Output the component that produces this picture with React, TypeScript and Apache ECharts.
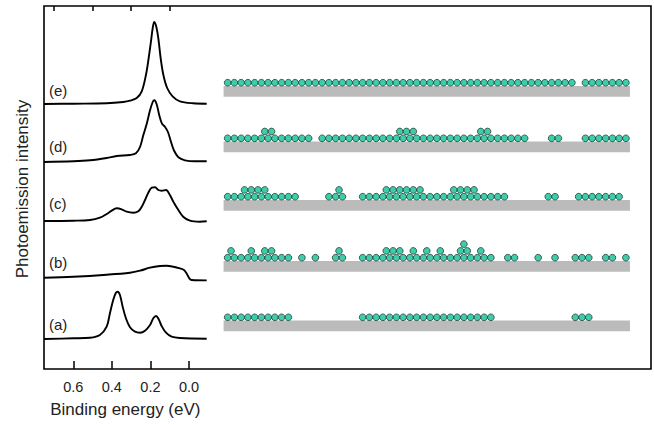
import React, { useEffect, useRef } from "react";
import * as echarts from "echarts";

// ---------- Spectra (binding energy in eV, intensity in arbitrary units above each baseline) ----------
const ENERGY_A = [0.752, 0.6, 0.513, 0.462, 0.427, 0.41, 0.393, 0.379, 0.37, 0.358, 0.344, 0.327, 0.306, 0.28, 0.254, 0.228, 0.202, 0.185, 0.171, 0.157, 0.142, 0.119, 0.09, 0.047, -0.092];
const INTENSITY_A = [0, 0.7, 1.3, 4, 12.3, 25.7, 39, 46.3, 47.3, 44, 32.3, 20.7, 11.7, 7.3, 6.3, 8.3, 14, 20.7, 23, 19.7, 13, 6.3, 2.3, 1, 0.3];

const ENERGY_B = [0.752, 0.6, 0.427, 0.306, 0.254, 0.202, 0.15, 0.116, 0.081, 0.047, 0.026, 0.012, -0.002, -0.014, -0.092];
const INTENSITY_B = [0, 1, 3, 5, 7, 10, 11.7, 12, 11, 9.3, 7.7, 4.3, -0.7, -2.3, -2.7];

const ENERGY_C = [0.752, 0.6, 0.513, 0.462, 0.427, 0.401, 0.375, 0.349, 0.323, 0.289, 0.263, 0.245, 0.228, 0.211, 0.193, 0.176, 0.159, 0.142, 0.119, 0.099, 0.081, 0.055, 0.03, -0.005, -0.057, -0.092];
const INTENSITY_C = [0, 0.3, 1, 3.3, 7, 10.3, 12.7, 11.7, 9.3, 8.3, 9.7, 14.3, 21, 28.3, 33.3, 33.7, 31, 30.3, 31, 26, 19.3, 11, 4.3, 0.3, -0.7, -0.3];

const ENERGY_D = [0.752, 0.6, 0.513, 0.427, 0.375, 0.306, 0.275, 0.254, 0.237, 0.219, 0.202, 0.188, 0.18, 0.168, 0.154, 0.14, 0.124, 0.109, 0.093, 0.078, 0.055, 0.021, -0.031, -0.092];
const INTENSITY_D = [0, 0.7, 1.7, 4, 6, 7, 8.7, 15, 26.7, 38.3, 51.7, 60, 61.7, 58, 46.7, 38.3, 35, 30, 20, 11.7, 4.7, 1.7, 0.7, 0.7];

const ENERGY_E = [0.752, 0.6, 0.427, 0.341, 0.306, 0.271, 0.245, 0.223, 0.209, 0.197, 0.188, 0.18, 0.168, 0.157, 0.147, 0.133, 0.113, 0.085, 0.047, -0.022, -0.092];
const INTENSITY_E = [0, 0.3, 0.7, 2, 3.3, 6, 12.7, 29.3, 46, 62.7, 76, 82, 76, 62.7, 46, 29.3, 16, 7.7, 2.7, 0.7, 0.3];

const SPECTRUM_LABELS = ["(a)", "(b)", "(c)", "(d)", "(e)"];
const SPECTRUM_BASELINES = [30, 91.3, 148, 207, 265];

const MAJOR_TICKS = [0, 0.2, 0.4, 0.6];
const MINOR_TICKS = [0.1, 0.3, 0.5, 0.7];

// ---------- Atom rows (lattice site index; upper layers at half sites) ----------
const ROW_A_BASE = [0, 1, 2, 3, 4, 5, 6, 7, 8, 9, 20, 21, 22, 23, 24, 25, 26, 27, 28, 29, 30, 31, 32, 33, 34, 35, 36, 37, 38, 39, 51.5, 52.5, 53.5];
const ROW_A_UP: number[] = [];
const ROW_A_TOP: number[] = [];

const ROW_B_BASE = [0, 1, 2, 3, 4, 5, 6, 7, 8, 9, 11, 13, 16, 17, 20, 21, 22, 23, 24, 25, 26, 27, 28, 29, 30, 31, 32, 33, 34, 35, 36, 37, 38, 39, 41.5, 42.5, 46, 48.5, 51.5, 52.5, 53.5, 56, 57, 59];
const ROW_B_UP = [0.5, 3.5, 5.5, 6.5, 16.5, 23.5, 24.5, 25.5, 27.5, 29.5, 31.5, 34.5, 35.5, 37.5];
const ROW_B_TOP = [35];

const ROW_C_BASE = [0, 1, 2, 3, 4, 5, 6, 7, 8, 9, 10, 15, 16, 17, 20, 21, 22, 23, 24, 25, 26, 27, 28, 29, 30, 31, 32, 33, 34, 35, 36, 37, 38, 39, 40, 41, 47.5, 48.5, 52, 53, 54, 55, 56, 57, 58];
const ROW_C_UP = [2.5, 3.5, 4.5, 5.5, 16.5, 23.5, 24.5, 25.5, 26.5, 27.5, 28.5, 33.5, 34.5, 35.5, 36.5];
const ROW_C_TOP: number[] = [];

const ROW_D_BASE = [0, 1, 2, 3, 4, 5, 6, 7, 8, 9, 10, 11, 12, 14, 15, 16, 17, 18, 19, 20, 21, 22, 23, 24, 25, 26, 27, 28, 29, 30, 31, 32, 33, 34, 35, 36, 37, 38, 39, 40, 41, 42, 43, 44, 48, 49, 53, 54, 55, 56, 57, 58, 59];
const ROW_D_UP = [5.5, 6.5, 25.5, 26.5, 27.5, 37.5, 38.5];
const ROW_D_TOP: number[] = [];

const ROW_E_BASE = [0, 1, 2, 3, 4, 5, 6, 7, 8, 9, 10, 11, 12, 13, 14, 15, 16, 17, 18, 19, 20, 21, 22, 23, 24, 25, 26, 27, 28, 29, 30, 31, 32, 33, 34, 35, 36, 37, 38, 39, 40, 41, 42, 43, 44, 45, 46, 47, 48, 49, 50, 51, 53, 54, 55, 56, 57, 58, 59];
const ROW_E_UP: number[] = [];
const ROW_E_TOP: number[] = [];

const ROW_LEVELS = [51.7, 111.3, 172.3, 230.7, 286.3];

const FONT = "'Liberation Sans', Arial, Helvetica, sans-serif";
const TEXT_COLOR = "#222";
const ATOM_FILL = "#0fc194";
const ATOM_EDGE = "#1a3029";
const SUBSTRATE = "#bbbbbb";

export default function App() {
  const ref = useRef<HTMLDivElement>(null);

  useEffect(() => {
    if (!ref.current) return;
    const chart = echarts.init(ref.current, undefined, { renderer: "svg" });

    const spectraE = [ENERGY_A, ENERGY_B, ENERGY_C, ENERGY_D, ENERGY_E];
    const spectraI = [INTENSITY_A, INTENSITY_B, INTENSITY_C, INTENSITY_D, INTENSITY_E];
    const rowsBase = [ROW_A_BASE, ROW_B_BASE, ROW_C_BASE, ROW_D_BASE, ROW_E_BASE];
    const rowsUp = [ROW_A_UP, ROW_B_UP, ROW_C_UP, ROW_D_UP, ROW_E_UP];
    const rowsTop = [ROW_A_TOP, ROW_B_TOP, ROW_C_TOP, ROW_D_TOP, ROW_E_TOP];
    const LAYER = 6.8;
    const XMIN = -0.6;
    const XMAX = 59.6;

    const lineSeries = spectraE.map((es, k) => ({
      type: "line",
      xAxisIndex: 0,
      yAxisIndex: 0,
      data: es.map((e, j) => [e, SPECTRUM_BASELINES[k] + spectraI[k][j]]),
      smooth: 0.35,
      symbol: "none",
      lineStyle: { color: "#000", width: 1.9 },
      z: 3,
    }));

    const atomStyle = {
      color: ATOM_FILL,
      borderColor: ATOM_EDGE,
      borderWidth: 0.9,
    };
    const mkAtoms = (rows: number[][], layer: number, z: number) => ({
      type: "scatter",
      xAxisIndex: 2,
      yAxisIndex: 1,
      symbol: "circle",
      symbolSize: 6.7,
      itemStyle: atomStyle,
      data: rows.flatMap((sites, k) => sites.map((s) => [s, ROW_LEVELS[k] + layer * LAYER])),
      z,
    });

    const option: any = {
      animation: false,
      backgroundColor: "#fff",
      textStyle: { fontFamily: FONT },
      grid: [
        { left: 44, top: 6, width: 162.7, height: 363 },
        { left: 223.6, top: 6, width: 406.35, height: 363 },
      ],
      xAxis: [
        {
          gridIndex: 0,
          type: "value",
          min: -0.092,
          max: 0.752,
          inverse: true,
          axisLine: { show: false },
          splitLine: { show: false },
          axisTick: {
            show: true,
            inside: true,
            length: 8,
            customValues: MAJOR_TICKS,
            lineStyle: { color: "#000", width: 1.5 },
          },
          axisLabel: {
            show: true,
            customValues: MAJOR_TICKS,
            formatter: (v: number) => v.toFixed(1),
            margin: 10,
            fontSize: 14.5,
            color: TEXT_COLOR,
            fontFamily: FONT,
          },
          name: "Binding energy (eV)",
          nameLocation: "middle",
          nameGap: 32,
          nameTextStyle: { fontSize: 17, color: TEXT_COLOR, fontFamily: FONT },
        },
        {
          gridIndex: 0,
          type: "value",
          min: -0.092,
          max: 0.752,
          inverse: true,
          axisLine: { show: false },
          splitLine: { show: false },
          axisTick: {
            show: true,
            inside: true,
            length: 5,
            customValues: MINOR_TICKS,
            lineStyle: { color: "#000", width: 1.5 },
          },
          axisLabel: { show: false },
        },
        {
          gridIndex: 1,
          type: "value",
          min: XMIN,
          max: XMAX,
          show: false,
        },
      ],
      yAxis: [
        { gridIndex: 0, type: "value", min: 0, max: 363, show: false },
        { gridIndex: 1, type: "value", min: 0, max: 363, show: false },
      ],
      series: [
        ...lineSeries,
        {
          type: "custom",
          xAxisIndex: 2,
          yAxisIndex: 1,
          data: ROW_LEVELS.map((lvl) => [XMIN, lvl]),
          renderItem: (params: any, api: any) => {
            const lvl = api.value(1);
            const p1 = api.coord([XMIN, lvl - 3.3]);
            const p2 = api.coord([XMAX, lvl - 14]);
            return {
              type: "rect",
              shape: { x: p1[0], y: p1[1], width: p2[0] - p1[0], height: p2[1] - p1[1] },
              style: { fill: SUBSTRATE },
            };
          },
          z: 1,
        },
        mkAtoms(rowsBase, 0, 4),
        mkAtoms(rowsUp, 1, 5),
        mkAtoms(rowsTop, 2, 6),
      ],
      graphic: [
        {
          type: "rect",
          shape: { x: 44, y: 6, width: 607, height: 363 },
          style: { fill: "none", stroke: "#000", lineWidth: 1.6 },
          z: 10,
        },
        {
          type: "text",
          x: 22,
          y: 189,
          rotation: Math.PI / 2,
          style: {
            text: "Photoemission intensity",
            font: `17px ${FONT}`,
            fill: TEXT_COLOR,
            textAlign: "center",
            textVerticalAlign: "middle",
          },
        },
        ...SPECTRUM_LABELS.map((t, k) => ({
          type: "text",
          x: 49,
          y: [324.3, 262.3, 203.3, 146.7, 90][k],
          style: {
            text: t,
            font: `15px ${FONT}`,
            fill: TEXT_COLOR,
            textAlign: "left",
            textVerticalAlign: "middle",
          },
        })),
      ],
    };

    chart.setOption(option);
    return () => chart.dispose();
  }, []);

  return (
    <div
      ref={ref}
      style={{ position: "fixed", left: 0, top: 0, width: 654, height: 425, background: "#fff" }}
    />
  );
}
